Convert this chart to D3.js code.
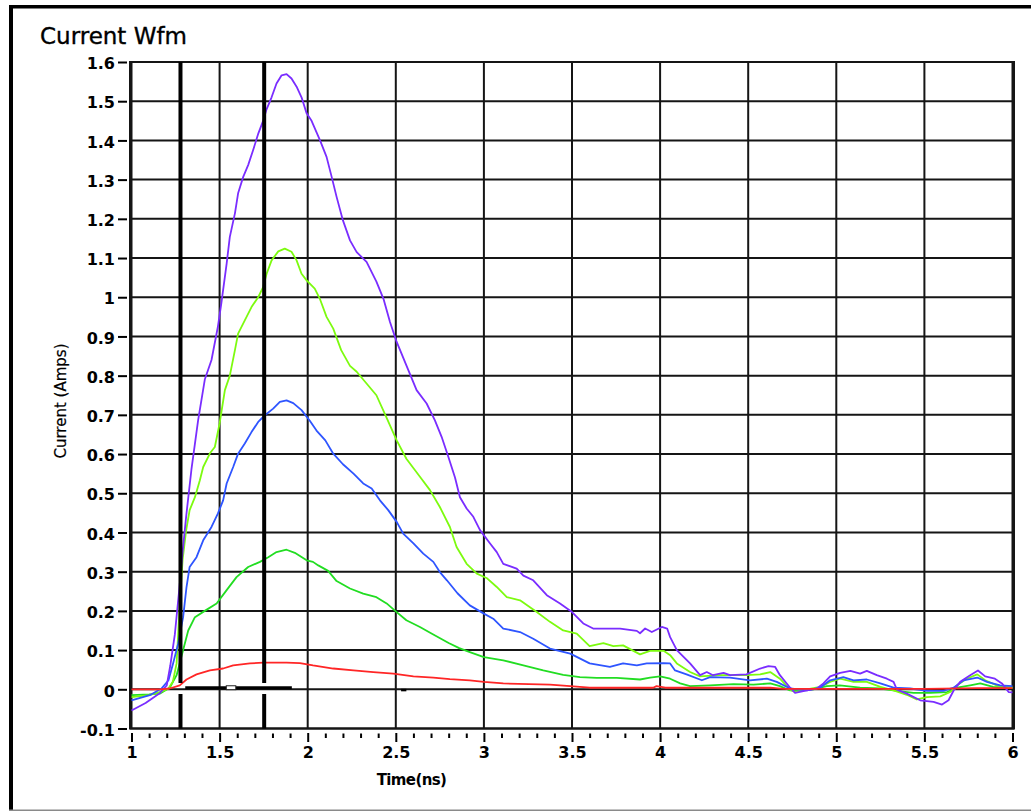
<!DOCTYPE html>
<html>
<head>
<meta charset="utf-8">
<script src="https://cdn.jsdelivr.net/npm/d3@7"></script>
<style>
  html, body { margin: 0; padding: 0; background: #fff; }
  svg { display: block; }
</style>
</head>
<body>
<div id="chart"></div>
<script>
// ---------------- DATA ----------------
const chartTitle = "Current Wfm";
const xLabel = "Time(ns)";
const yLabel = "Current (Amps)";
const xMajorTicks = [1, 1.5, 2, 2.5, 3, 3.5, 4, 4.5, 5, 5.5, 6];
const yTicks = [-0.1, 0, 0.1, 0.2, 0.3, 0.4, 0.5, 0.6, 0.7, 0.8, 0.9, 1, 1.1, 1.2, 1.3, 1.4, 1.5, 1.6];
const cursorTimes = [1.278, 1.753];

const purpleSeries = [[1.0,-0.054],[1.08,-0.035],[1.16,-0.01],[1.2,0.01],[1.22,0.06],[1.246,0.14],[1.27,0.25],[1.29,0.35],[1.31,0.44],[1.34,0.56],[1.378,0.686],[1.416,0.79],[1.454,0.84],[1.49,0.924],[1.51,0.985],[1.54,1.086],[1.558,1.154],[1.587,1.214],[1.605,1.265],[1.634,1.307],[1.662,1.337],[1.69,1.375],[1.72,1.418],[1.747,1.45],[1.767,1.48],[1.795,1.51],[1.823,1.545],[1.852,1.566],[1.88,1.569],[1.908,1.558],[1.937,1.537],[1.965,1.51],[1.994,1.469],[2.022,1.45],[2.07,1.40],[2.107,1.358],[2.136,1.307],[2.164,1.256],[2.2,1.196],[2.24,1.145],[2.278,1.115],[2.334,1.09],[2.39,1.04],[2.43,0.996],[2.467,0.937],[2.505,0.886],[2.56,0.826],[2.618,0.763],[2.675,0.729],[2.722,0.686],[2.76,0.644],[2.798,0.593],[2.836,0.54],[2.864,0.49],[2.902,0.461],[2.94,0.44],[2.978,0.406],[3.035,0.372],[3.073,0.35],[3.11,0.32],[3.186,0.308],[3.224,0.29],[3.28,0.278],[3.357,0.24],[3.432,0.219],[3.5,0.197],[3.564,0.168],[3.62,0.155],[3.773,0.155],[3.868,0.149],[3.886,0.143],[3.915,0.155],[3.953,0.146],[4.01,0.159],[4.04,0.155],[4.057,0.133],[4.095,0.1],[4.17,0.066],[4.227,0.036],[4.265,0.044],[4.30,0.036],[4.36,0.042],[4.397,0.036],[4.49,0.038],[4.568,0.053],[4.615,0.059],[4.653,0.057],[4.68,0.036],[4.738,0.004],[4.766,-0.009],[4.833,-0.003],[4.89,0.002],[4.927,0.015],[4.965,0.033],[5.022,0.042],[5.08,0.047],[5.135,0.04],[5.173,0.047],[5.23,0.036],[5.287,0.027],[5.325,0.019],[5.344,-0.001],[5.4,-0.011],[5.476,-0.028],[5.552,-0.032],[5.6,-0.039],[5.637,-0.028],[5.666,-0.003],[5.703,0.019],[5.76,0.036],[5.804,0.048],[5.845,0.033],[5.9,0.027],[5.94,0.015],[5.978,-0.007],[6.0,-0.008]];

const chartreuseSeries = [[1.0,-0.02],[1.1,-0.015],[1.17,-0.006],[1.21,0.002],[1.235,0.02],[1.256,0.066],[1.274,0.219],[1.29,0.33],[1.31,0.405],[1.33,0.457],[1.36,0.49],[1.388,0.533],[1.407,0.567],[1.445,0.602],[1.473,0.618],[1.5,0.678],[1.53,0.763],[1.558,0.8],[1.587,0.865],[1.605,0.907],[1.643,0.941],[1.681,0.975],[1.719,1.0],[1.747,1.026],[1.767,1.06],[1.795,1.094],[1.833,1.117],[1.87,1.124],[1.908,1.116],[1.937,1.094],[1.965,1.06],[1.994,1.043],[2.04,1.022],[2.07,0.995],[2.107,0.95],[2.145,0.92],[2.19,0.865],[2.24,0.825],[2.278,0.81],[2.334,0.78],[2.39,0.75],[2.448,0.692],[2.505,0.635],[2.56,0.588],[2.637,0.542],[2.694,0.508],[2.75,0.465],[2.807,0.414],[2.845,0.363],[2.902,0.32],[2.96,0.295],[3.015,0.284],[3.073,0.261],[3.13,0.235],[3.205,0.227],[3.3,0.197],[3.375,0.172],[3.45,0.15],[3.527,0.142],[3.6,0.11],[3.678,0.118],[3.735,0.11],[3.79,0.112],[3.886,0.089],[3.943,0.098],[4.02,0.098],[4.057,0.087],[4.095,0.066],[4.17,0.044],[4.227,0.033],[4.34,0.036],[4.49,0.036],[4.568,0.038],[4.625,0.044],[4.68,0.027],[4.738,-0.001],[4.766,-0.007],[4.833,0],[4.908,0.006],[4.965,0.019],[5.022,0.027],[5.098,0.019],[5.173,0.019],[5.25,0.006],[5.325,-0.003],[5.4,-0.014],[5.457,-0.026],[5.514,-0.02],[5.59,-0.018],[5.647,-0.007],[5.685,0.01],[5.74,0.027],[5.8,0.038],[5.845,0.023],[5.91,0.01],[6.0,0.004]];

const blueSeries = [[1.0,-0.028],[1.104,-0.015],[1.17,0.002],[1.21,0.023],[1.236,0.066],[1.265,0.117],[1.293,0.184],[1.312,0.26],[1.33,0.312],[1.369,0.337],[1.407,0.38],[1.454,0.414],[1.49,0.448],[1.52,0.482],[1.54,0.525],[1.577,0.567],[1.605,0.601],[1.643,0.627],[1.681,0.656],[1.719,0.682],[1.757,0.699],[1.804,0.716],[1.842,0.733],[1.88,0.737],[1.918,0.73],[1.965,0.712],[2.012,0.685],[2.05,0.66],[2.1,0.635],[2.145,0.601],[2.2,0.574],[2.26,0.55],[2.315,0.525],[2.363,0.512],[2.41,0.482],[2.457,0.457],[2.505,0.427],[2.542,0.397],[2.6,0.372],[2.656,0.346],[2.713,0.325],[2.75,0.299],[2.79,0.278],[2.85,0.245],[2.92,0.214],[3.0,0.193],[3.053,0.18],[3.11,0.155],[3.205,0.146],[3.28,0.129],[3.375,0.104],[3.49,0.091],[3.6,0.066],[3.715,0.057],[3.79,0.066],[3.868,0.061],[3.924,0.066],[4.02,0.067],[4.057,0.066],[4.085,0.048],[4.15,0.038],[4.237,0.023],[4.284,0.031],[4.397,0.03],[4.51,0.023],[4.606,0.027],[4.662,0.019],[4.738,0.002],[4.833,-0.003],[4.908,0.004],[4.965,0.023],[5.04,0.031],[5.098,0.023],[5.173,0.025],[5.25,0.015],[5.325,0.004],[5.42,0.002],[5.514,-0.004],[5.608,-0.004],[5.666,0.004],[5.722,0.023],[5.8,0.03],[5.855,0.019],[5.93,0.01],[6.0,0.008]];

const greenSeries = [[1.0,-0.015],[1.1,-0.013],[1.16,-0.011],[1.217,0.004],[1.256,0.036],[1.293,0.1],[1.322,0.15],[1.36,0.184],[1.416,0.2],[1.483,0.219],[1.54,0.253],[1.596,0.286],[1.662,0.312],[1.729,0.325],[1.776,0.337],[1.823,0.35],[1.88,0.356],[1.927,0.348],[1.994,0.329],[2.03,0.325],[2.06,0.316],[2.116,0.302],[2.164,0.276],[2.24,0.257],[2.315,0.244],[2.39,0.235],[2.448,0.219],[2.505,0.197],[2.56,0.176],[2.637,0.159],[2.7,0.143],[2.8,0.118],[2.86,0.105],[2.92,0.095],[3.0,0.082],[3.11,0.074],[3.224,0.061],[3.337,0.048],[3.45,0.037],[3.545,0.031],[3.64,0.029],[3.754,0.029],[3.886,0.025],[3.943,0.03],[4.0,0.033],[4.057,0.027],[4.114,0.015],[4.17,0.008],[4.284,0.01],[4.416,0.013],[4.53,0.012],[4.625,0.015],[4.68,0.008],[4.738,-0.003],[4.79,-0.004],[4.87,0],[4.946,0.008],[5.02,0.01],[5.135,0.004],[5.25,0.002],[5.344,-0.004],[5.438,-0.009],[5.533,-0.009],[5.628,-0.007],[5.685,0.004],[5.76,0.01],[5.817,0.015],[5.89,0.006],[6.0,0.004]];

const redSeries = [[1.0,0],[1.16,0],[1.217,0.002],[1.274,0.01],[1.312,0.025],[1.369,0.038],[1.445,0.048],[1.52,0.053],[1.577,0.061],[1.672,0.066],[1.747,0.068],[1.88,0.068],[1.956,0.067],[2.03,0.061],[2.145,0.053],[2.26,0.048],[2.372,0.044],[2.486,0.04],[2.6,0.033],[2.713,0.03],[2.807,0.026],[2.92,0.023],[3.0,0.019],[3.11,0.015],[3.375,0.012],[3.49,0.008],[3.6,0.004],[3.96,0.004],[3.98,0.008],[4.03,0.004],[4.625,0.004],[4.7,0.001],[5.0,0.001],[5.5,0.001],[5.8,0.003],[6.0,0.003]];

const seriesList = [
  { name: "green", data: greenSeries, color: "#22dd22" },
  { name: "chartreuse", data: chartreuseSeries, color: "#7dfb0f" },
  { name: "blue", data: blueSeries, color: "#2e55ff" },
  { name: "purple", data: purpleSeries, color: "#7a2dff" },
  { name: "red", data: redSeries, color: "#ff2626" }
];

// ---------------- DRAW ----------------
const W = 1031, H = 811;
const FONT = "DejaVu Sans, Verdana, sans-serif";
const svg = d3.select("#chart").append("svg").attr("width", W).attr("height", H);
svg.append("rect").attr("width", W).attr("height", H).attr("fill", "#fff");

const x = d3.scaleLinear().domain([1, 6]).range([131.5, 1012.5]);
const y = d3.scaleLinear().domain([-0.1, 1.6]).range([728.5, 62]);

// outer frame
svg.append("rect").attr("x", 9).attr("y", 5).attr("width", W - 9).attr("height", 3.5).attr("fill", "#000");
svg.append("rect").attr("x", 9).attr("y", 5).attr("width", 4).attr("height", H - 5).attr("fill", "#000");
svg.append("rect").attr("x", 9).attr("y", 809.5).attr("width", W - 9).attr("height", 1.5).attr("fill", "#8a8a8a");

// title
svg.append("text").attr("x", 40).attr("y", 44)
  .attr("font-family", FONT).attr("font-size", 23)
  .attr("fill", "#000").attr("stroke", "#000").attr("stroke-width", 0.35).text(chartTitle);

const x0 = x(1) - 1.5, x1 = x(6) + 1.5;
const gridColor = "#151515";

// grid
const grid = svg.append("g");
grid.selectAll("line.h").data(yTicks).join("line").attr("class", "h")
  .attr("x1", x0).attr("x2", x1)
  .attr("y1", d => y(d)).attr("y2", d => y(d))
  .attr("stroke", gridColor).attr("stroke-width", 2);
grid.selectAll("line.v").data(xMajorTicks).join("line").attr("class", "v")
  .attr("x1", d => x(d)).attr("x2", d => x(d))
  .attr("y1", y(1.6)).attr("y2", y(-0.1))
  .attr("stroke", gridColor).attr("stroke-width", 2);
grid.append("rect").attr("x", x0).attr("y", y(1.6)).attr("width", x1 - x0).attr("height", y(-0.1) - y(1.6))
  .attr("fill", "none").attr("stroke", gridColor).attr("stroke-width", 2);

// axes
const fmt = d => (Math.abs(d) < 1e-9 ? "0" : String(+d.toFixed(1)));
const yAxis = d3.axisLeft(y).tickValues(yTicks).tickFormat(fmt).tickSize(9).tickPadding(3);
const gy = svg.append("g").attr("transform", "translate(127,0)").call(yAxis);
gy.select(".domain").remove();
gy.selectAll(".tick line").attr("stroke", "#000").attr("stroke-width", 2);
gy.selectAll(".tick text").attr("font-family", FONT)
  .attr("font-size", 16).attr("font-weight", "bold").attr("fill", "#000").attr("dy", "0.42em");

const minorTicks = d3.range(10, 61).map(d => d / 10).filter(d => Math.abs(d * 2 - Math.round(d * 2)) > 1e-6);
const xMinor = d3.axisBottom(x).tickValues(minorTicks).tickFormat("").tickSize(4.5);
const gxm = svg.append("g").attr("transform", "translate(0,733.5)").call(xMinor);
gxm.select(".domain").remove();
gxm.selectAll(".tick line").attr("stroke", "#000").attr("stroke-width", 2);

const xAxis = d3.axisBottom(x).tickValues(xMajorTicks).tickFormat(fmt).tickSize(9).tickPadding(5);
const gx = svg.append("g").attr("transform", "translate(0,733)").call(xAxis);
gx.select(".domain").remove();
gx.selectAll(".tick line").attr("stroke", "#000").attr("stroke-width", 2);
gx.selectAll(".tick text").attr("font-family", FONT)
  .attr("font-size", 16).attr("font-weight", "bold").attr("fill", "#000");

// axis titles
svg.append("text").attr("transform", "translate(61,401) rotate(-90)")
  .attr("text-anchor", "middle").attr("dominant-baseline", "central")
  .attr("font-family", FONT).attr("font-size", 15)
  .attr("fill", "#000").attr("stroke", "#000").attr("stroke-width", 0.2).text(yLabel);
svg.append("text").attr("x", 411.5).attr("y", 784.5).attr("text-anchor", "middle")
  .attr("font-family", FONT).attr("font-size", 15)
  .attr("font-weight", "bold").attr("letter-spacing", -0.6)
  .attr("fill", "#000").text(xLabel);

// series
svg.append("clipPath").attr("id", "plotclip").append("rect")
  .attr("x", x0).attr("y", y(1.6)).attr("width", x1 - x0).attr("height", y(-0.1) - y(1.6));
const line = d3.line().x(d => x(d[0])).y(d => y(d[1]));
const gl = svg.append("g").attr("clip-path", "url(#plotclip)");
gl.selectAll("path.series").data(seriesList).join("path").attr("class", "series")
  .attr("d", d => line(d.data)).attr("fill", "none")
  .attr("stroke", d => d.color).attr("stroke-width", 1.8)
  .attr("stroke-linejoin", "round");

// cursors
const gc = svg.append("g");
cursorTimes.forEach(t => {
  gc.append("line").attr("x1", x(t)).attr("x2", x(t)).attr("y1", y(1.6)).attr("y2", y(0.016))
    .attr("stroke", "#000").attr("stroke-width", 4);
  gc.append("line").attr("x1", x(t)).attr("x2", x(t)).attr("y1", y(-0.012)).attr("y2", y(-0.1))
    .attr("stroke", "#000").attr("stroke-width", 4);
});
gc.append("line").attr("x1", x(1.305)).attr("x2", x(1.91)).attr("y1", y(0.004)).attr("y2", y(0.004))
  .attr("stroke", "#000").attr("stroke-width", 3);
gc.append("rect").attr("x", x(1.538)).attr("y", y(0.009)).attr("width", x(1.592) - x(1.538)).attr("height", y(-0.001) - y(0.009))
  .attr("fill", "#fff").attr("stroke", "#222").attr("stroke-width", 1);
gc.append("line").attr("x1", x(2.53)).attr("x2", x(2.56)).attr("y1", y(-0.002)).attr("y2", y(-0.002))
  .attr("stroke", "#000").attr("stroke-width", 2.5);
</script>
</body>
</html>
